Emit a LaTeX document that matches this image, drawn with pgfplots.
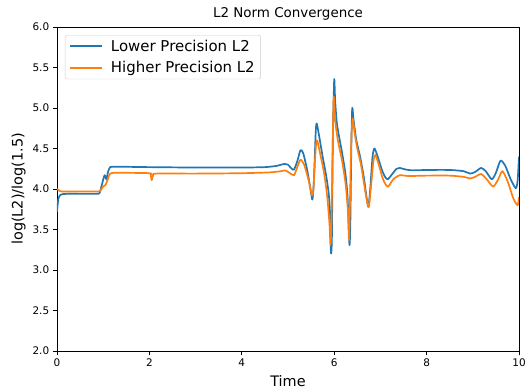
\documentclass[border=0pt]{standalone}
\usepackage{fontspec}
\setmainfont{DejaVu Sans}
\usepackage{pgfplots}
\pgfplotsset{compat=1.18}
\definecolor{cA}{HTML}{1F77B4}
\definecolor{cB}{HTML}{FF7F0E}
\begin{document}
\begin{tikzpicture}
\begin{axis}[
  name=ax,
  scale only axis, width=462bp, height=324bp,
  xmin=0, xmax=10, ymin=2, ymax=6,
  xtick={0,2,4,6,8,10},
  ytick={2,2.5,3,3.5,4,4.5,5,5.5,6},
  yticklabel style={/pgf/number format/.cd,fixed,fixed zerofill,precision=1},
  /pgf/number format/assume math mode=true,
  tick label style={font=\fontsize{10.5}{12}\selectfont},
  tick align=outside, major tick length=4.3bp,
  every tick/.style={black, line width=0.9bp},
  xtick pos=bottom, ytick pos=left,
  axis line style={line width=0.9bp},
  title={L2 Norm Convergence},
  title style={font=\fontsize{13.5}{15}\selectfont, yshift=-3bp},
  xlabel={Time}, ylabel={log(L2)/log(1.5)},
  label style={font=\fontsize{14.5}{16}\selectfont},
  xlabel style={yshift=-2bp},
  legend cell align=left,
  legend style={at={(0.0173,0.975)}, anchor=north west, font=\fontsize{15}{17}\selectfont,
    draw=black!20, rounded corners=2bp, row sep=5bp, inner xsep=4bp, inner ysep=2.5bp},
  legend image code/.code={\draw[#1, line width=1.9bp] (0bp,0.3bp) -- (32bp,0.3bp); \path (38bp,0bp);},
  every axis plot/.append style={line width=1.7bp, line join=round},
]
\addplot[cA, smooth, tension=0.4] coordinates {
(0.00,3.72) (0.03,3.88) (0.08,3.93) (0.2,3.94) (0.5,3.94) (0.85,3.94) (0.92,3.95) (0.97,4.05) (1.03,4.17) (1.07,4.12) (1.1,4.20) (1.15,4.27) (1.3,4.275) (2.0,4.27) (3.0,4.265) (4.0,4.265) (4.5,4.27) (4.75,4.285) (4.85,4.30) (4.93,4.31) (5.0,4.30) (5.08,4.25) (5.13,4.24) (5.2,4.34) (5.27,4.48) (5.33,4.44) (5.42,4.22) (5.5,3.95) (5.53,3.87) (5.56,4.1) (5.6,4.7) (5.62,4.81) (5.66,4.70) (5.75,4.40) (5.83,4.15) (5.88,3.95) (5.91,3.70) (5.93,3.21) (5.95,3.4) (5.97,4.6) (6.0,5.35) (6.02,5.1) (6.06,4.8) (6.16,4.48) (6.24,4.2) (6.29,3.9) (6.33,3.31) (6.35,3.6) (6.37,4.5) (6.39,5.0) (6.42,4.85) (6.48,4.60) (6.56,4.40) (6.64,4.15) (6.70,3.90) (6.74,3.78) (6.78,4.0) (6.83,4.4) (6.87,4.50) (6.93,4.42) (7.03,4.24) (7.1,4.15) (7.16,4.12) (7.25,4.18) (7.35,4.25) (7.42,4.26) (7.55,4.24) (7.7,4.23) (8.0,4.235) (8.5,4.235) (8.8,4.22) (8.94,4.19) (9.05,4.21) (9.18,4.26) (9.28,4.22) (9.41,4.12) (9.5,4.20) (9.6,4.35) (9.7,4.29) (9.82,4.12) (9.93,4.01) (9.97,4.1) (10.0,4.4)
};
\addlegendentry{Lower Precision L2}
\addplot[cB, smooth, tension=0.4] coordinates {
(0.00,4.00) (0.05,3.98) (0.1,3.97) (0.5,3.97) (0.9,3.97) (0.95,3.99) (1.0,4.03) (1.05,4.05) (1.1,4.12) (1.15,4.19) (1.3,4.20) (2.0,4.195) (2.03,4.17) (2.05,4.11) (2.08,4.17) (2.15,4.19) (3.0,4.19) (4.0,4.195) (4.6,4.205) (4.85,4.22) (4.94,4.23) (5.03,4.20) (5.13,4.17) (5.2,4.27) (5.27,4.36) (5.35,4.30) (5.45,4.10) (5.52,3.92) (5.55,4.0) (5.6,4.5) (5.63,4.60) (5.68,4.48) (5.78,4.2) (5.85,3.9) (5.9,3.55) (5.92,3.31) (5.94,3.6) (5.97,4.6) (5.99,5.14) (6.02,4.85) (6.08,4.6) (6.17,4.35) (6.25,4.05) (6.3,3.7) (6.32,3.37) (6.34,3.8) (6.37,4.6) (6.40,4.87) (6.44,4.70) (6.5,4.50) (6.58,4.30) (6.65,4.05) (6.71,3.85) (6.75,3.78) (6.8,4.05) (6.85,4.35) (6.89,4.42) (6.95,4.33) (7.05,4.13) (7.12,4.05) (7.17,4.03) (7.28,4.12) (7.42,4.17) (7.6,4.16) (8.0,4.165) (8.5,4.165) (8.8,4.15) (8.94,4.13) (9.05,4.15) (9.18,4.185) (9.3,4.12) (9.44,4.03) (9.55,4.12) (9.64,4.22) (9.75,4.10) (9.88,3.88) (9.97,3.80) (10.0,3.90)
};
\addlegendentry{Higher Precision L2}
\end{axis}
\pgfresetboundingbox
\path[use as bounding box] ([xshift=-57bp,yshift=-40bp]ax.south west) rectangle ([xshift=10bp,yshift=27bp]ax.north east);
\end{tikzpicture}
\end{document}
